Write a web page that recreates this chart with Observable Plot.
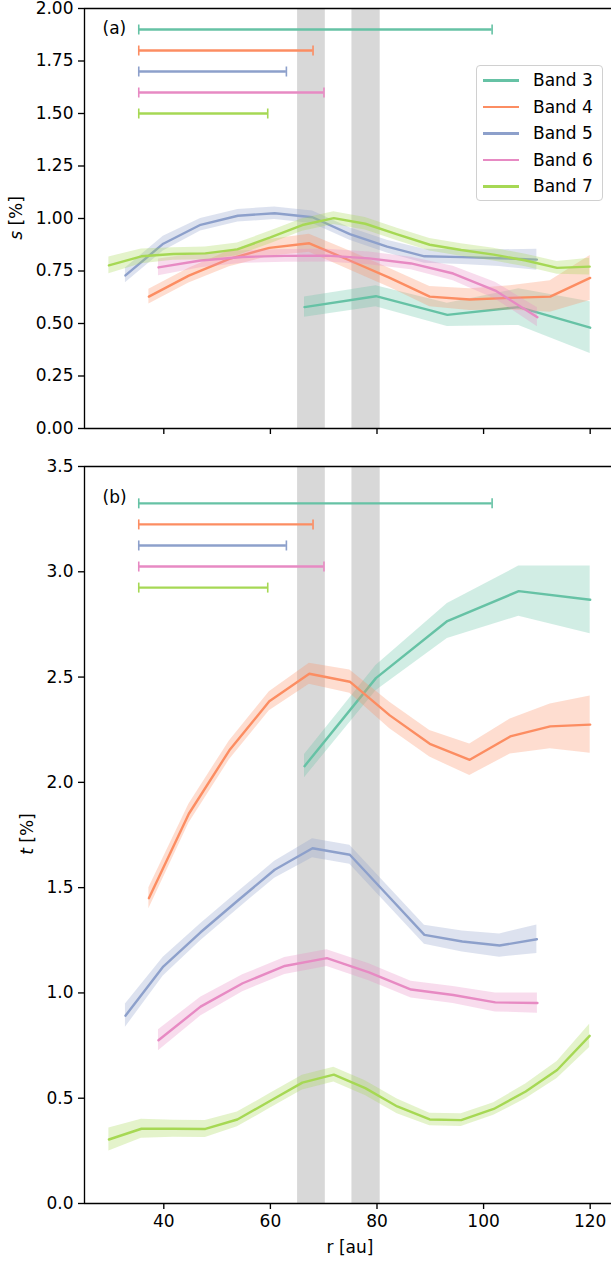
<!DOCTYPE html>
<html>
<head>
<meta charset="utf-8">
<script src="https://cdn.jsdelivr.net/npm/d3@7"></script>
<script src="https://cdn.jsdelivr.net/npm/@observablehq/plot@0.6"></script>
<style>
  body { margin: 0; background: #fff; font-family: "DejaVu Sans", sans-serif; }
  #fig { position: relative; width: 611px; height: 1262px; overflow: hidden; background: #fff; }
  #fig svg { display: block; }
  #legend {
    position: absolute; left: 476px; top: 65px; width: 127px; height: 136px;
    border: 1px solid #d0d0d0; border-radius: 4px; background: rgba(255,255,255,0.85);
    box-sizing: border-box; padding-top: 1px;
  }
  .lrow { display: flex; align-items: center; height: 26.5px; font-size: 17px; color: #000; }
  .lsw { width: 36px; height: 2.5px; margin-left: 6px; margin-right: 14px; }
</style>
</head>
<body>
<div id="fig"></div>
<script>
// Series names and Set2 colours
const bands = ["Band 3", "Band 4", "Band 5", "Band 6", "Band 7"];
const colors = ["#66c2a5", "#fc8d62", "#8da0cb", "#e78ac3", "#a6d854"];

// Radii [au] per band
const r3 = [66.4, 79.8, 93.2, 106.6, 120.0];
const r4 = [37.2, 44.7, 52.3, 59.8, 67.3, 74.9, 82.4, 89.9, 97.4, 105.0, 112.5, 120.0];
const r5 = [32.8, 39.9, 46.9, 53.9, 60.8, 67.9, 74.9, 81.9, 88.9, 96.0, 103.0, 110.0];
const r6 = [39.0, 46.9, 54.8, 62.7, 70.6, 78.5, 86.4, 94.3, 102.2, 110.1];
const r7 = [29.7, 35.8, 41.8, 47.8, 53.8, 60.0, 66.0, 71.9, 77.8, 83.8, 89.9, 95.8, 101.9, 107.9, 113.8, 119.9];

// s [%] and its uncertainty
const s3 = [0.578, 0.630, 0.541, 0.578, 0.480];
const es3 = [0.048, 0.050, 0.055, 0.087, 0.123];
const s4 = [0.628, 0.728, 0.808, 0.860, 0.882, 0.800, 0.717, 0.628, 0.614, 0.622, 0.628, 0.717];
const es4 = [0.035, 0.035, 0.038, 0.040, 0.043, 0.045, 0.045, 0.048, 0.052, 0.058, 0.075, 0.107];
const s5 = [0.729, 0.880, 0.970, 1.013, 1.025, 1.006, 0.926, 0.866, 0.820, 0.816, 0.811, 0.804];
const es5 = [0.035, 0.035, 0.030, 0.030, 0.030, 0.030, 0.030, 0.030, 0.033, 0.035, 0.040, 0.050];
const s6 = [0.767, 0.800, 0.817, 0.822, 0.823, 0.810, 0.786, 0.738, 0.657, 0.530];
const es6 = [0.040, 0.035, 0.030, 0.030, 0.030, 0.030, 0.030, 0.035, 0.040, 0.045];
const s7 = [0.777, 0.820, 0.831, 0.834, 0.853, 0.910, 0.969, 1.002, 0.975, 0.924, 0.875, 0.850, 0.828, 0.800, 0.765, 0.771];
const es7 = [0.040, 0.035, 0.030, 0.030, 0.030, 0.030, 0.030, 0.030, 0.030, 0.030, 0.030, 0.030, 0.030, 0.030, 0.030, 0.040];

// t [%] and its uncertainty
const t3 = [2.077, 2.495, 2.766, 2.908, 2.867];
const et3 = [0.055, 0.060, 0.083, 0.119, 0.161];
const t4 = [1.450, 1.851, 2.152, 2.385, 2.516, 2.478, 2.318, 2.183, 2.107, 2.218, 2.266, 2.274];
const et4 = [0.050, 0.045, 0.045, 0.045, 0.050, 0.055, 0.063, 0.063, 0.075, 0.083, 0.106, 0.136];
const t5 = [0.892, 1.125, 1.288, 1.439, 1.585, 1.687, 1.656, 1.466, 1.276, 1.244, 1.225, 1.255];
const et5 = [0.055, 0.045, 0.040, 0.040, 0.040, 0.045, 0.045, 0.045, 0.045, 0.050, 0.055, 0.068];
const t6 = [0.775, 0.935, 1.046, 1.128, 1.165, 1.098, 1.016, 0.990, 0.955, 0.952];
const et6 = [0.050, 0.045, 0.040, 0.040, 0.040, 0.040, 0.040, 0.040, 0.045, 0.048];
const t7 = [0.304, 0.355, 0.355, 0.354, 0.399, 0.488, 0.574, 0.612, 0.548, 0.461, 0.399, 0.396, 0.449, 0.532, 0.634, 0.796];
const et7 = [0.055, 0.045, 0.040, 0.040, 0.035, 0.035, 0.035, 0.035, 0.035, 0.035, 0.030, 0.030, 0.030, 0.035, 0.040, 0.055];

// Ring gaps [au]
const gapStart = [65.1, 75.3];
const gapEnd = [70.3, 80.6];

// Beam extents [au] per band
const beamStart = 35.3;
const beamEnd = [101.6, 68.0, 63.0, 70.05, 59.5];

// Axis ticks
const xTicks = [40, 60, 80, 100, 120];
const sTicks = [0, 0.25, 0.5, 0.75, 1.0, 1.25, 1.5, 1.75, 2.0];
const tTicks = [0, 0.5, 1.0, 1.5, 2.0, 2.5, 3.0, 3.5];
const xDomain = [25.12, 124.0];

const radii = [r3, r4, r5, r6, r7];
const sVals = [s3, s4, s5, s6, s7], sErr = [es3, es4, es5, es6, es7];
const tVals = [t3, t4, t5, t6, t7], tErr = [et3, et4, et5, et6, et7];

function series(vals, errs) {
  return bands.map((b, i) => radii[i].map((r, j) => ({
    band: b, r, v: vals[i][j], lo: vals[i][j] - errs[i][j], hi: vals[i][j] + errs[i][j]
  })));
}
const gapRows = gapStart.map((x1, i) => ({x1, x2: gapEnd[i]}));

// Vertical cap used at both ends of the beam bars
const capSymbol = {
  draw(ctx, size) {
    const h = Math.sqrt(size / Math.PI);
    ctx.moveTo(0, -h);
    ctx.lineTo(0, h);
  }
};

function panel({data, yMax, yTicks, fmt, height, marginTop, marginBottom, tag, tagDy, xLabels}) {
  const marks = [Plot.rect(gapRows, {x1: "x1", x2: "x2", fill: "#d8d8d8"})];
  data.forEach((rows, i) => {
    marks.push(Plot.areaY(rows, {x: "r", y1: "lo", y2: "hi", fill: colors[i], fillOpacity: 0.3}));
    marks.push(Plot.lineY(rows, {x: "r", y: "v", stroke: colors[i], strokeWidth: 2.4}));
  });
  bands.forEach((b, i) => {
    const row = [{x1: beamStart, x2: beamEnd[i], y: yMax * 0.95 - 0.1 * i}];
    marks.push(Plot.ruleY(row, {y: "y", x1: "x1", x2: "x2", stroke: colors[i], strokeWidth: 2.4}));
    marks.push(Plot.dot(row, {x: "x1", y: "y", symbol: capSymbol, r: 5, fill: "none", stroke: colors[i], strokeWidth: 1.6}));
    marks.push(Plot.dot(row, {x: "x2", y: "y", symbol: capSymbol, r: 5, fill: "none", stroke: colors[i], strokeWidth: 1.6}));
  });
  marks.push(
    Plot.ruleX([xDomain[0]], {stroke: "black", strokeWidth: 1.35}),
    Plot.ruleY([0], {stroke: "black", strokeWidth: 1.35}),
    Plot.ruleY([yMax], {stroke: "black", strokeWidth: 1.35}),
    Plot.axisY({ticks: yTicks, tickFormat: fmt, tickSize: 6, tickPadding: 5, label: null, strokeWidth: 1.35}),
    Plot.axisX({ticks: xTicks, tickSize: 6, tickPadding: 5, label: null, strokeWidth: 1.35,
                tickFormat: xLabels ? d3.format("d") : () => ""}),
    Plot.text([tag], {frameAnchor: "top-left", dx: 18, dy: tagDy, textAnchor: "start", lineAnchor: "middle", fontSize: 17})
  );
  if (xLabels) {
    marks.push(Plot.text(["r [au]"], {frameAnchor: "bottom", dx: 2, dy: 44, lineAnchor: "middle", fontSize: 17}));
  }
  return Plot.plot({
    width: 611, height, marginLeft: 84, marginRight: 0, marginTop, marginBottom,
    x: {domain: xDomain},
    y: {domain: [0, yMax]},
    style: {fontSize: "17px", fontFamily: "DejaVu Sans, sans-serif", color: "black", background: "white", overflow: "visible"},
    marks
  });
}

function yLabel(svg, letter, x, y) {
  const t = d3.select(svg).append("text")
    .attr("transform", `translate(${x},${y}) rotate(-90)`)
    .attr("text-anchor", "middle")
    .attr("dominant-baseline", "central")
    .attr("font-size", 17)
    .attr("fill", "black");
  t.append("tspan").attr("font-style", "italic").text(letter);
  t.append("tspan").text(" [%]");
}

const fig = document.getElementById("fig");
const topPanel = panel({data: series(sVals, sErr), yMax: 2, yTicks: sTicks, fmt: d3.format(".2f"),
  height: 440, marginTop: 8, marginBottom: 12, tag: "(a)", tagDy: 20, xLabels: false});
yLabel(topPanel, "s", 16, 218);
fig.appendChild(topPanel);

const bottomPanel = panel({data: series(tVals, tErr), yMax: 3.5, yTicks: tTicks, fmt: d3.format(".1f"),
  height: 822, marginTop: 26, marginBottom: 59, tag: "(b)", tagDy: 31, xLabels: true});
yLabel(bottomPanel, "t", 27, 394);
fig.appendChild(bottomPanel);

// Legend drawn over the upper panel
const legend = document.createElement("div");
legend.id = "legend";
bands.forEach((b, i) => {
  const row = document.createElement("div");
  row.className = "lrow";
  const sw = document.createElement("span");
  sw.className = "lsw";
  sw.style.background = colors[i];
  const label = document.createElement("span");
  label.textContent = b;
  row.appendChild(sw);
  row.appendChild(label);
  legend.appendChild(row);
});
fig.appendChild(legend);
</script>
</body>
</html>
